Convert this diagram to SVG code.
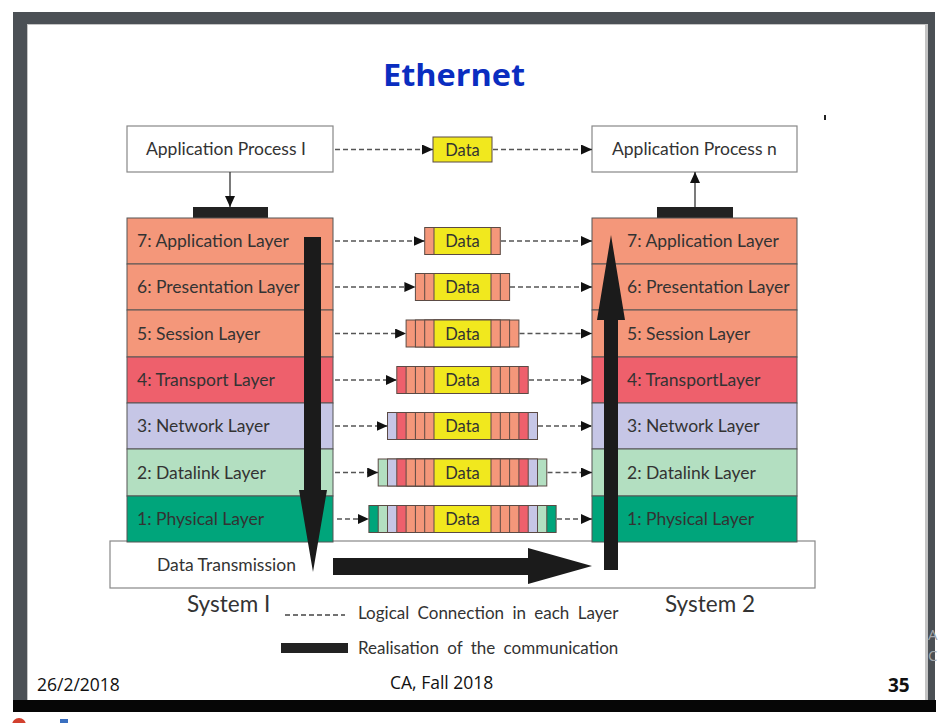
<svg xmlns="http://www.w3.org/2000/svg" width="947" height="723" viewBox="0 0 947 723">
<style>
.lbl{font-family:Lato,"Liberation Sans",sans-serif;font-size:17.5px;fill:#333}
.sys{font-family:Lato,"Liberation Sans",sans-serif;font-size:22.5px;fill:#333}
.leg{font-family:Lato,"Liberation Sans",sans-serif;font-size:17px;fill:#333;word-spacing:4px}
.dat{font-family:Lato,"Liberation Sans",sans-serif;font-size:16.5px;fill:#333;text-anchor:middle}
.foot{font-family:"Open Sans","Liberation Sans",sans-serif;font-size:17.5px;fill:#111}
.sal{fill:#F4977A}.red{fill:#EE606C}.lav{fill:#C6C6E6}.grn{fill:#B3DFC1}.teal{fill:#00A57B}.yel{fill:#F1E81E}
.lay{stroke:#555;stroke-width:1}
.pk rect{stroke:#5b4a44;stroke-width:1}
.box{fill:#fff;stroke:#888;stroke-width:1.2}
.dash{stroke:#555;stroke-width:1.6;stroke-dasharray:5 3;fill:none}
.bar{fill:#222}
.big{fill:#1b1b1b}
</style>
<defs>
<marker id="ah" markerUnits="userSpaceOnUse" markerWidth="11" markerHeight="10" refX="11" refY="5" orient="auto">
<path d="M0,0 L11,5 L0,10 z" fill="#111"/>
</marker>
</defs>

<!-- slide frame -->
<rect x="0" y="0" width="947" height="723" fill="#fff"/>
<rect x="13" y="12" width="922" height="700" fill="#4b5055"/>
<rect x="27" y="24" width="901" height="676" fill="#c4c4c4"/>
<rect x="28" y="25" width="897" height="675" fill="#fff"/>
<rect x="13" y="700" width="923" height="12" fill="#060606"/>
<circle cx="19" cy="725" r="7" fill="#d2402e"/>
<rect x="60" y="719" width="8" height="4" fill="#3a6fc0"/>
<text x="928" y="640" font-family="'Open Sans',sans-serif" font-size="15" fill="#a3a7ab">A</text>
<text x="928" y="661" font-family="'Open Sans',sans-serif" font-size="15" fill="#a3a7ab">C</text>
<rect x="824" y="115" width="2" height="5" fill="#222"/>

<text x="454" y="86" text-anchor="middle" font-family="'Open Sans','Liberation Sans',sans-serif" font-weight="bold" font-size="31" fill="#0a2dc0" textLength="142" lengthAdjust="spacingAndGlyphs">Ethernet</text>

<!-- application processes -->
<g id="ap1"><rect class="box" x="127" y="126" width="206" height="46"/><text class="lbl" x="146" y="155">Application Process I</text></g>
<g id="apn"><rect class="box" x="592" y="126" width="205" height="46"/><text class="lbl" x="612" y="155">Application Process n</text></g>
<g id="data-top" class="pk"><rect class="yel" x="433" y="137" width="59" height="25"/><text class="dat" x="462.5" y="155.5">Data</text></g>

<!-- realisation bars -->
<g id="bar-left"><rect class="bar" x="193" y="207" width="75" height="11"/></g>
<g id="bar-right"><rect class="bar" x="657" y="207" width="76" height="11"/></g>

<!-- data transmission medium -->
<g id="medium"><rect class="box" x="110" y="541" width="705" height="47"/><text class="lbl" x="157" y="571">Data Transmission</text></g>

<!-- left stack -->
<g id="sys1-l7"><rect class="sal lay" x="127" y="218" width="206" height="46"/><text class="lbl" x="137" y="247">7: Application Layer</text></g>
<g id="sys1-l6"><rect class="sal lay" x="127" y="264" width="206" height="46"/><text class="lbl" x="137" y="293">6: Presentation Layer</text></g>
<g id="sys1-l5"><rect class="sal lay" x="127" y="310" width="206" height="47"/><text class="lbl" x="137" y="339.5">5: Session Layer</text></g>
<g id="sys1-l4"><rect class="red lay" x="127" y="357" width="206" height="46"/><text class="lbl" x="137" y="386">4: Transport Layer</text></g>
<g id="sys1-l3"><rect class="lav lay" x="127" y="403" width="206" height="46"/><text class="lbl" x="137" y="432">3: Network Layer</text></g>
<g id="sys1-l2"><rect class="grn lay" x="127" y="449" width="206" height="47"/><text class="lbl" x="137" y="478.5">2: Datalink Layer</text></g>
<g id="sys1-l1"><rect class="teal lay" x="127" y="496" width="206" height="46"/><text class="lbl" x="137" y="525">1: Physical Layer</text></g>

<!-- right stack -->
<g id="sys2-l7"><rect class="sal lay" x="592" y="218" width="205" height="46"/><text class="lbl" x="627" y="247">7: Application Layer</text></g>
<g id="sys2-l6"><rect class="sal lay" x="592" y="264" width="205" height="46"/><text class="lbl" x="627" y="293">6: Presentation Layer</text></g>
<g id="sys2-l5"><rect class="sal lay" x="592" y="310" width="205" height="47"/><text class="lbl" x="627" y="339.5">5: Session Layer</text></g>
<g id="sys2-l4"><rect class="red lay" x="592" y="357" width="205" height="46"/><text class="lbl" x="627" y="386">4: TransportLayer</text></g>
<g id="sys2-l3"><rect class="lav lay" x="592" y="403" width="205" height="46"/><text class="lbl" x="627" y="432">3: Network Layer</text></g>
<g id="sys2-l2"><rect class="grn lay" x="592" y="449" width="205" height="47"/><text class="lbl" x="627" y="478.5">2: Datalink Layer</text></g>
<g id="sys2-l1"><rect class="teal lay" x="592" y="496" width="205" height="46"/><text class="lbl" x="627" y="525">1: Physical Layer</text></g>

<!-- packets -->
<g id="pkt7" class="pk">
<rect class="sal" x="424.7" y="227.5" width="75.6" height="27"/>
<rect class="yel" x="434" y="227.5" width="57" height="27"/>
<text class="dat" x="462.5" y="247">Data</text></g>
<g id="pkt6" class="pk">
<rect class="sal" x="415.4" y="273.5" width="94.2" height="27"/>
<rect class="sal" x="424.7" y="273.5" width="75.6" height="27"/>
<rect class="yel" x="434" y="273.5" width="57" height="27"/>
<text class="dat" x="462.5" y="293">Data</text></g>
<g id="pkt5" class="pk">
<rect class="sal" x="406.1" y="320" width="112.8" height="27"/>
<rect class="sal" x="415.4" y="320" width="94.2" height="27"/>
<rect class="sal" x="424.7" y="320" width="75.6" height="27"/>
<rect class="yel" x="434" y="320" width="57" height="27"/>
<text class="dat" x="462.5" y="339.5">Data</text></g>
<g id="pkt4" class="pk">
<rect class="red" x="396.8" y="366.5" width="131.4" height="27"/>
<rect class="sal" x="406.1" y="366.5" width="112.8" height="27"/>
<rect class="sal" x="415.4" y="366.5" width="94.2" height="27"/>
<rect class="sal" x="424.7" y="366.5" width="75.6" height="27"/>
<rect class="yel" x="434" y="366.5" width="57" height="27"/>
<text class="dat" x="462.5" y="386">Data</text></g>
<g id="pkt3" class="pk">
<rect class="lav" x="387.5" y="412.5" width="150" height="27"/>
<rect class="red" x="396.8" y="412.5" width="131.4" height="27"/>
<rect class="sal" x="406.1" y="412.5" width="112.8" height="27"/>
<rect class="sal" x="415.4" y="412.5" width="94.2" height="27"/>
<rect class="sal" x="424.7" y="412.5" width="75.6" height="27"/>
<rect class="yel" x="434" y="412.5" width="57" height="27"/>
<text class="dat" x="462.5" y="432">Data</text></g>
<g id="pkt2" class="pk">
<rect class="grn" x="378.2" y="459" width="168.6" height="27"/>
<rect class="lav" x="387.5" y="459" width="150" height="27"/>
<rect class="red" x="396.8" y="459" width="131.4" height="27"/>
<rect class="sal" x="406.1" y="459" width="112.8" height="27"/>
<rect class="sal" x="415.4" y="459" width="94.2" height="27"/>
<rect class="sal" x="424.7" y="459" width="75.6" height="27"/>
<rect class="yel" x="434" y="459" width="57" height="27"/>
<text class="dat" x="462.5" y="478.5">Data</text></g>
<g id="pkt1" class="pk">
<rect class="teal" x="368.9" y="505.5" width="187.2" height="27"/>
<rect class="grn" x="378.2" y="505.5" width="168.6" height="27"/>
<rect class="lav" x="387.5" y="505.5" width="150" height="27"/>
<rect class="red" x="396.8" y="505.5" width="131.4" height="27"/>
<rect class="sal" x="406.1" y="505.5" width="112.8" height="27"/>
<rect class="sal" x="415.4" y="505.5" width="94.2" height="27"/>
<rect class="sal" x="424.7" y="505.5" width="75.6" height="27"/>
<rect class="yel" x="434" y="505.5" width="57" height="27"/>
<text class="dat" x="462.5" y="525">Data</text></g>

<!-- connectors -->
<g id="connectors">
<line class="dash" x1="335" y1="149.5" x2="433" y2="149.5" marker-end="url(#ah)"/>
<line class="dash" x1="493" y1="149.5" x2="592" y2="149.5" marker-end="url(#ah)"/>
<line x1="230" y1="172" x2="230" y2="207" stroke="#333" stroke-width="1.3" marker-end="url(#ah)"/>
<line x1="695" y1="207" x2="695" y2="172" stroke="#333" stroke-width="1.3" marker-end="url(#ah)"/>

<line class="dash" x1="335" y1="241" x2="424.7" y2="241" marker-end="url(#ah)"/>
<line class="dash" x1="501" y1="241" x2="592" y2="241" marker-end="url(#ah)"/>
<line class="dash" x1="335" y1="287" x2="415.4" y2="287" marker-end="url(#ah)"/>
<line class="dash" x1="510" y1="287" x2="592" y2="287" marker-end="url(#ah)"/>
<line class="dash" x1="335" y1="333.5" x2="406.1" y2="333.5" marker-end="url(#ah)"/>
<line class="dash" x1="519.5" y1="333.5" x2="592" y2="333.5" marker-end="url(#ah)"/>
<line class="dash" x1="335" y1="380" x2="396.8" y2="380" marker-end="url(#ah)"/>
<line class="dash" x1="529" y1="380" x2="592" y2="380" marker-end="url(#ah)"/>
<line class="dash" x1="335" y1="426" x2="387.5" y2="426" marker-end="url(#ah)"/>
<line class="dash" x1="538" y1="426" x2="592" y2="426" marker-end="url(#ah)"/>
<line class="dash" x1="335" y1="472.5" x2="378.2" y2="472.5" marker-end="url(#ah)"/>
<line class="dash" x1="547.5" y1="472.5" x2="592" y2="472.5" marker-end="url(#ah)"/>
<line class="dash" x1="337" y1="519" x2="368.9" y2="519" marker-end="url(#ah)"/>
<line class="dash" x1="557" y1="519" x2="592" y2="519" marker-end="url(#ah)"/>

<polygon class="big" points="304,237 321,237 321,490 327,490 313,572 299,490 304,490"/>
<polygon class="big" points="333,558 528,558 528,548 592,566 528,584 528,575 333,575"/>
<polygon class="big" points="604,570 618,570 618,320 625,320 611,235 597,320 604,320"/>
</g>

<!-- captions and legend -->
<text class="sys" x="187" y="612">System I</text>
<text class="sys" x="665" y="612">System 2</text>
<g id="legend">
<line x1="285" y1="615" x2="345" y2="615" stroke="#444" stroke-width="1.3" stroke-dasharray="5 3"/>
<text class="leg" x="358" y="619">Logical Connection in each Layer</text>
<rect class="bar" x="281" y="643" width="67" height="10"/>
<text class="leg" x="358" y="654">Realisation of the communication</text>
</g>

<!-- footer -->
<text class="foot" x="37" y="691">26/2/2018</text>
<text class="foot" x="390" y="689">CA, Fall 2018</text>
<text class="foot" x="888" y="692" font-weight="bold" style="font-size:19px">35</text>
</svg>
